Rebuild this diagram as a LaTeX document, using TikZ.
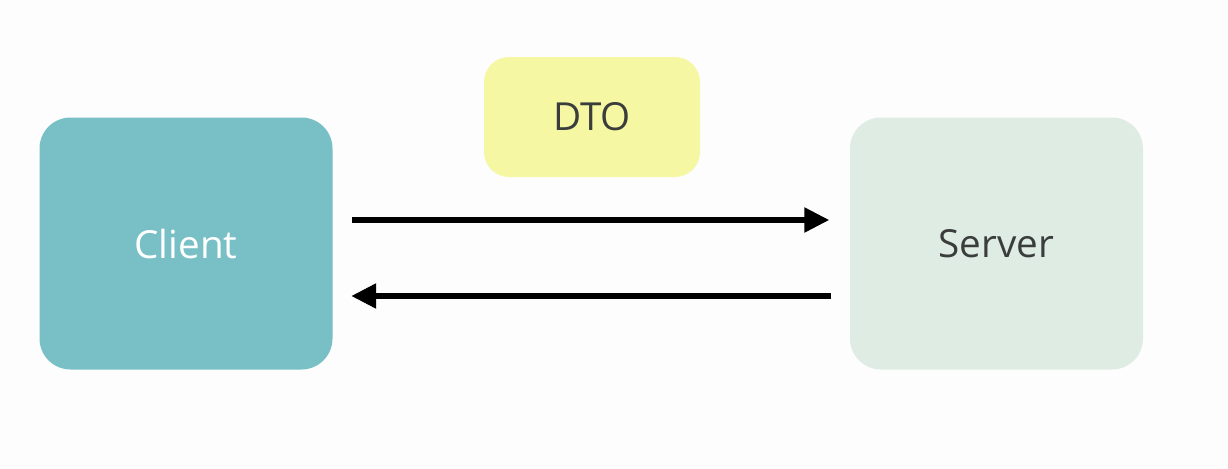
\documentclass[tikz,border=0pt]{standalone}
\usepackage{fontspec}
\setmainfont{Open Sans}
\usetikzlibrary{arrows.meta}

\definecolor{fundo}{HTML}{FDFDFD}
\definecolor{cliente}{HTML}{78C0C6}
\definecolor{servidor}{HTML}{DFECE4}
\definecolor{dto}{HTML}{F6F7A2}
\definecolor{texto}{HTML}{3A3D3B}

\begin{document}
\begin{tikzpicture}[
    line width=3.1pt,
    >={Triangle[length=5mm,width=4.8mm]},
    caixa/.style={rounded corners=0.62cm, align=center, inner sep=0pt,
      minimum width=5.86cm, minimum height=5.04cm, font=\fontsize{22}{26}\selectfont},
  ]
  \fill[fundo] (0,0) rectangle (24.56,-9.38);
  \useasboundingbox (0,0) rectangle (24.56,-9.38);

  % Caixas
  \node[caixa, fill=cliente, text=white] (client) at (3.72,-4.87) {Client};
  \node[caixa, fill=servidor, text=texto] (server) at (19.93,-4.87) {Server};
  \node[caixa, fill=dto, text=texto, rounded corners=0.5cm,
    minimum width=4.32cm, minimum height=2.4cm] (dto) at (11.84,-2.34) {DTO};

  % Fluxo
  \draw[->, shorten <=0.34cm, shorten >=0.36cm]
    ([yshift=0.47cm]client.east) -- ([yshift=0.47cm]client.east -| server.west);
  \draw[->, shorten <=0.32cm, shorten >=0.32cm]
    ([yshift=-1.05cm]server.west) -- ([yshift=-1.05cm]server.west -| client.east);
\end{tikzpicture}
\end{document}
